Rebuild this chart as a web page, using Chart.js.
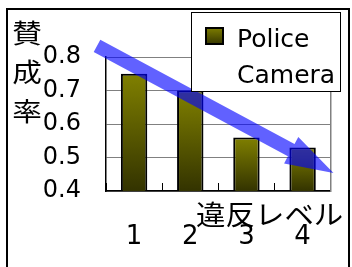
<!DOCTYPE html>
<html>
<head>
<meta charset="utf-8">
<script src="https://cdn.jsdelivr.net/npm/chart.js@4.4.1/dist/chart.umd.min.js"></script>
<style>
  html, body { margin: 0; padding: 0; background: #fff; }
  canvas { display: block; }
</style>
</head>
<body>
<canvas id="chart" width="352" height="267"></canvas>
<script>
const levels = ["1", "2", "3", "4"];
const approval = [0.75, 0.70, 0.56, 0.53];
const yTicks = [0.4, 0.5, 0.6, 0.7, 0.8];
const seriesName = ["Police", "Camera"];
const yTitle = ["賛", "成", "率"];
const xTitle = "違反レベル";
// trend arrow as [category index, value]
const arrowFrom = [-0.66, 0.833];
const arrowTo = [3.55, 0.454];

const latin = "'DejaVu Sans', sans-serif";
const cjk = "'Noto Sans CJK JP', sans-serif";

function olive(c, top, bottom){
  const g = c.createLinearGradient(0, top, 0, bottom);
  g.addColorStop(0, "#808000");
  g.addColorStop(1, "#333300");
  return g;
}

const frame = {
  id: "frame",
  beforeDraw(chart){
    const c = chart.ctx;
    c.save();
    c.strokeStyle = "#000";
    c.lineWidth = 2;
    c.beginPath();
    c.moveTo(7, 280); c.lineTo(7, 9); c.lineTo(349, 9); c.lineTo(349, 280);
    c.stroke();
    c.restore();
  }
};

const arrow = {
  id: "arrow",
  afterDatasetsDraw(chart){
    const x = chart.scales.x, y = chart.scales.y;
    const x0 = x.getPixelForValue(arrowFrom[0]), y0 = y.getPixelForValue(arrowFrom[1]);
    const x1 = x.getPixelForValue(arrowTo[0]), y1 = y.getPixelForValue(arrowTo[1]);
    const len = Math.hypot(x1 - x0, y1 - y0);
    const ux = (x1 - x0) / len, uy = (y1 - y0) / len;
    const nx = -uy, ny = ux;
    const shaft = 7, head = 15, headLen = 48;
    const bx = x1 - ux * headLen, by = y1 - uy * headLen;
    const c = chart.ctx;
    c.save();
    c.fillStyle = "rgba(0,0,255,0.62)";
    c.beginPath();
    c.moveTo(x0 + nx * shaft, y0 + ny * shaft);
    c.lineTo(bx + nx * shaft, by + ny * shaft);
    c.lineTo(bx + nx * head, by + ny * head);
    c.lineTo(x1, y1);
    c.lineTo(bx - nx * head, by - ny * head);
    c.lineTo(bx - nx * shaft, by - ny * shaft);
    c.lineTo(x0 - nx * shaft, y0 - ny * shaft);
    c.closePath();
    c.fill();
    c.restore();
  }
};

const titles = {
  id: "titles",
  afterDraw(chart){
    const a = chart.chartArea;
    const c = chart.ctx;
    c.save();
    c.fillStyle = "#000";
    c.textAlign = "center";
    c.textBaseline = "middle";
    c.font = "26px " + cjk;
    yTitle.forEach((ch, i)=>{
      c.save();
      c.translate(a.left - 79, a.top - 24 + i * 39);
      c.scale(1.14, 1);
      c.fillText(ch, 0, 0);
      c.restore();
    });
    c.font = "27px " + cjk;
    c.translate(a.right - 61, a.bottom + 24);
    c.scale(1.09, 1);
    c.fillText(xTitle, 0, 0);
    c.restore();
  }
};

const legendBox = {
  id: "legendBox",
  afterDraw(chart){
    const c = chart.ctx;
    c.save();
    c.fillStyle = "#fff";
    c.fillRect(191, 12, 149, 79);
    c.strokeStyle = "#000";
    c.lineWidth = 1;
    c.strokeRect(191.5, 12.5, 149, 79);
    c.fillStyle = olive(c, 27, 45);
    c.fillRect(205, 27, 19, 18);
    c.lineWidth = 2;
    c.strokeRect(206, 28, 17, 16);
    c.fillStyle = "#000";
    c.font = "25px " + latin;
    c.textAlign = "left";
    c.textBaseline = "alphabetic";
    seriesName.forEach((t, i)=>{ c.fillText(t, 237, 47 + i * 36); });
    c.restore();
  }
};

new Chart(document.getElementById("chart"), {
  type: "bar",
  data: {
    labels: levels,
    datasets: [{
      label: seriesName.join(" "),
      data: approval,
      backgroundColor: (ctx)=>{
        const chart = ctx.chart;
        if(!chart.chartArea || ctx.raw === undefined){ return "#808000"; }
        return olive(chart.ctx, chart.scales.y.getPixelForValue(ctx.raw), chart.chartArea.bottom);
      },
      borderColor: "#000",
      borderWidth: 2,
      borderSkipped: false,
      barPercentage: 0.47,
      categoryPercentage: 1
    }]
  },
  options: {
    responsive: false,
    animation: false,
    devicePixelRatio: 1,
    layout: { padding: { top: 57, right: 17, left: 0, bottom: 0 } },
    plugins: { legend: { display: false }, tooltip: { enabled: false } },
    scales: {
      x: {
        grid: { display: true, drawOnChartArea: false, drawTicks: true, tickLength: -8, color: "#000", offset: true },
        border: { display: true, color: "#000", width: 1.5 },
        ticks: { color: "#000", font: { family: latin, size: 26 }, padding: 39 },
        afterFit: (s)=>{ s.height = 76; }
      },
      y: {
        min: 0.4,
        max: 0.8,
        afterBuildTicks: (s)=>{ s.ticks = yTicks.map((v)=>({ value: v })); },
        grid: { color: "#808080", lineWidth: 1, drawTicks: false },
        border: { display: true, color: "#000", width: 1.5 },
        ticks: { color: "#000", font: { family: latin, size: 24 }, padding: 25, callback: (v)=>v.toFixed(1) },
        afterFit: (s)=>{ s.width = 106; }
      },
      y2: {
        position: "right",
        grid: { display: false },
        border: { display: true, color: "#808080", width: 1.5 },
        ticks: { display: false },
        afterFit: (s)=>{ s.width = 0; }
      }
    }
  },
  plugins: [frame, arrow, titles, legendBox]
});
</script>
</body>
</html>
